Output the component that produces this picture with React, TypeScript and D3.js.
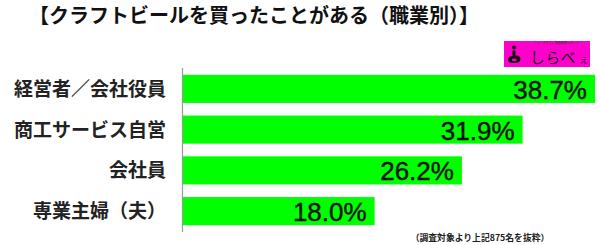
import React from "react";
import * as d3 from "d3";

const categories = ["経営者／会社役員", "商工サービス自営", "会社員", "専業主婦（夫）"];
const values = [38.7, 31.9, 26.2, 18.0];
const valueLabels = ["38.7%", "31.9%", "26.2%", "18.0%"];
const titleText = "【クラフトビールを買ったことがある（職業別）】";
const footnote = "（調査対象より上記875名を抜粋）";

export default function App() {
  const W = 600, H = 245;
  const x = d3.scaleLinear().domain([0, 38.7]).range([183, 595]);
  const y = d3.scaleBand<string>().domain(categories).range([68.5, 231.5]).paddingInner(0.31).paddingOuter(0.155);
  const jp = "'Noto Sans CJK JP', sans-serif";
  return (
    <svg width={W} height={H} style={{ position: "absolute", left: 0, top: 0, background: "#fff" }}>
      <text x={254} y={22.5} textAnchor="middle" fontFamily={jp} fontWeight="bold" fontSize={20} fill="#111">{titleText}</text>
      {/* logo */}
      <g>
        <rect x={504} y={41} width={86} height={26} fill="#ff00cc" />
        <text x={556} y={44.2} textAnchor="middle" fontFamily={jp} fontSize={3} fill="#333">ニュースサイト 調査情報メディア</text>
        <circle cx={514} cy={47.5} r={2} fill="#111" />
        <path d="M512.5 50.5 L515.5 50.5 L515.5 55.5 Q520 55 520.5 59 Q520.5 63 514 63 Q508 63 508 59.5 Q508.5 56 512.5 56 Z" fill="#111" />
        <ellipse cx={514.3} cy={59.8} rx={2.6} ry={1.4} fill="#ff00cc" />
        <text x={530} y={62.5} fontFamily={jp} fontSize={14.8} fill="#111" letterSpacing={0.6}>しらべ</text>
        <text x={579} y={62.5} fontFamily={jp} fontSize={9.5} fill="#111">ぇ</text>
      </g>
      <line x1={182.5} x2={182.5} y1={68} y2={232} stroke="#999" strokeWidth={1.2} />
      {categories.map((c, i) => {
        const by = y(c)!;
        const bh = y.bandwidth();
        return (
          <g key={c}>
            <rect x={x(0)} y={by} width={x(values[i]) - x(0)} height={bh} fill="#00ff00" />
            <text x={x(values[i]) - 8} y={by + bh / 2 + 10} textAnchor="end" fontFamily="'Liberation Sans', Arial, sans-serif" fontSize={26} fill="#111" stroke="#111" strokeWidth={0.4}>{valueLabels[i]}</text>
            <text x={166} y={by + bh / 2 + 7} textAnchor="end" fontFamily={jp} fontWeight="bold" fontSize={19} fill="#222">{c}</text>
          </g>
        );
      })}
      <text x={480} y={240.5} textAnchor="middle" fontFamily={jp} fontWeight="bold" fontSize={8.8} fill="#222">{footnote}</text>
    </svg>
  );
}
